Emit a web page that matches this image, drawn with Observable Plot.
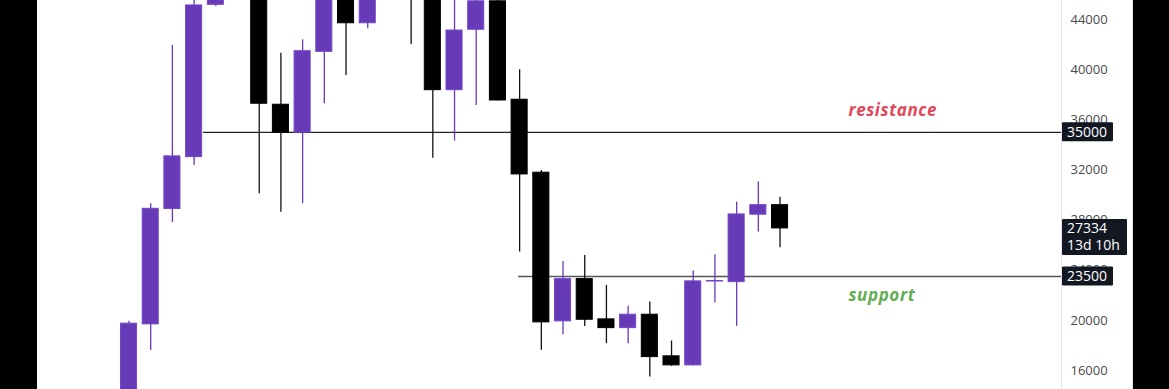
<!DOCTYPE html>
<html>
<head>
<meta charset="utf-8">
<script src="https://cdn.jsdelivr.net/npm/d3@7"></script>
<script src="https://cdn.jsdelivr.net/npm/@observablehq/plot@0.6"></script>
<style>
  html, body { margin: 0; padding: 0; background: #000; width: 1169px; height: 389px; overflow: hidden; }
  #wrap { position: absolute; left: 37px; top: 0; width: 1095px; height: 389px; background: #fff; border-right: 1px solid #e0e3eb; }
  svg { display: block; }
</style>
</head>
<body>
<div id="wrap"></div>
<script>
// Monthly candles (Nov 2020 .. May 2023)
const months = ["2020-11","2020-12","2021-01","2021-02","2021-03","2021-04","2021-05","2021-06","2021-07","2021-08","2021-09","2021-10","2021-11","2021-12","2022-01","2022-02","2022-03","2022-04","2022-05","2022-06","2022-07","2022-08","2022-09","2022-10","2022-11","2022-12","2023-01","2023-02","2023-03","2023-04","2023-05"];
const opens  = [13800,19680,28880,33020,45170,58800,57700,37200,34970,41420,47100,43700,61300,56950,46220,38360,43180,45450,37600,31780,19920,23290,20080,19380,20450,17130,16410,23100,23050,28430,29190];
const highs  = [19920,29300,41930,58300,61700,64800,59500,41310,42380,50500,52900,67000,69000,59050,48000,45820,48190,47440,39990,31960,24700,25180,22790,21120,21460,18350,23930,25240,29430,31030,29830];
const lows   = [13200,17600,27800,32360,45040,47000,30100,28630,29300,37280,39540,43260,53250,42000,32940,34300,37140,37500,25450,17610,18860,19520,18140,18140,15480,16330,16350,21380,19520,27040,25800];
const closes = [19735,28900,33080,45120,58800,57700,37280,34970,41470,47100,43700,61300,56950,46220,38360,43120,45450,37540,31640,19840,23290,20050,19380,20450,17070,16410,23110,23140,28450,29190,27334];

// Horizontal levels drawn on the chart (start candle index)
const levelPrices = [35000, 23500];
const levelStarts = [3.43, 17.95];
const levelNames  = ["resistance", "support"];
// Label anchors (candle index, price)
const labelX = [33.15, 33.15];
const labelY = [36750, 22000];

// Right axis ticks
const yTicks = [16000,20000,24000,28000,32000,36000,40000,44000];
// Price tags on the axis
const tagPrices = [35000, 27334, 23500];
const tagTexts  = [["35000"], ["27334","13d 10h"], ["23500"]];

const PURPLE = "#673ab7";
const candles = months.map((m, i) => ({
  i, m, open: opens[i], high: highs[i], low: lows[i], close: closes[i],
  up: closes[i] >= opens[i]
}));
const levels = levelPrices.map((p, k) => ({price: p, from: levelStarts[k], name: levelNames[k]}));
const labels = levelNames.map((n, k) => ({x: labelX[k], y: labelY[k], text: n}));

const W = 1095, H = 389;
const xDomain = [-4.217, 42.97];
const FONT = "'Open Sans', 'Noto Sans', sans-serif";

const chart = Plot.plot({
  width: W, height: H,
  marginLeft: 0, marginRight: 71, marginTop: 0, marginBottom: 0,
  style: {background: "#fff", fontFamily: FONT},
  x: {type: "linear", domain: xDomain, axis: null},
  y: {domain: [14485, 45515], axis: null},
  marks: [
    Plot.axisY(yTicks, {anchor: "right", tickSize: 0, tickPadding: 9, fontSize: 13, fill: "#4a4a4a", tickFormat: d3.format("d"), textAnchor: "start"}),
    Plot.ruleY(levels, {y: "price", x1: "from", x2: xDomain[1], stroke: d => d.name === "support" ? "#555" : "#222", strokeWidth: d => d.name === "support" ? 1.6 : 1.2}),
    Plot.ruleX(candles, {x: "i", y1: "low", y2: "high", stroke: d => d.up ? PURPLE : "#111", strokeWidth: 1.3, clip: true}),
    Plot.rect(candles, {x1: d => d.i - 0.37, x2: d => d.i + 0.37, y1: "open", y2: "close", fill: d => d.up ? PURPLE : "#000", stroke: d => d.up ? "#7446c7" : "#000", strokeWidth: 1, clip: true}),
    Plot.text(labels, {x: "x", y: "y", text: "text", textAnchor: "start", fontSize: 17, fontWeight: "bold", fontStyle: "italic",
      fill: d => d.text === "support" ? "#62ae55" : "#e0485c"})
  ]
});

document.getElementById("wrap").appendChild(chart);
// slight letter spacing on the level labels
d3.select(chart).selectAll("text").filter(function() { return this.textContent === "resistance" || this.textContent === "support"; })
  .attr("letter-spacing", "0.6px");

// axis separator and price tags, positioned with the chart's own y scale
const ys = chart.scale("y");
const svg = d3.select(chart);
const axisX = W - 71;
svg.append("line").attr("x1", axisX + 0.5).attr("x2", axisX + 0.5).attr("y1", 0).attr("y2", H).attr("stroke", "#e0e3eb");
const tags = svg.append("g").attr("font-family", FONT).attr("font-size", 14).attr("text-anchor", "start");
tagPrices.forEach((p, k) => {
  const lines = tagTexts[k];
  const y = ys.apply(p);
  const h = lines.length === 1 ? 19 : 36;
  const w = lines.length === 1 ? 51 : 65;
  const top = lines.length === 1 ? y - h / 2 : y - 9;
  tags.append("rect").attr("x", axisX + 1).attr("y", top).attr("width", w).attr("height", h).attr("rx", 1).attr("fill", "#131722");
  lines.forEach((t, j) => {
    tags.append("text").attr("x", axisX + 6).attr("y", top + 9.5 + j * 17).attr("dy", "0.35em").attr("fill", "#fff").attr("text-anchor", "start").text(t);
  });
});
</script>
</body>
</html>
